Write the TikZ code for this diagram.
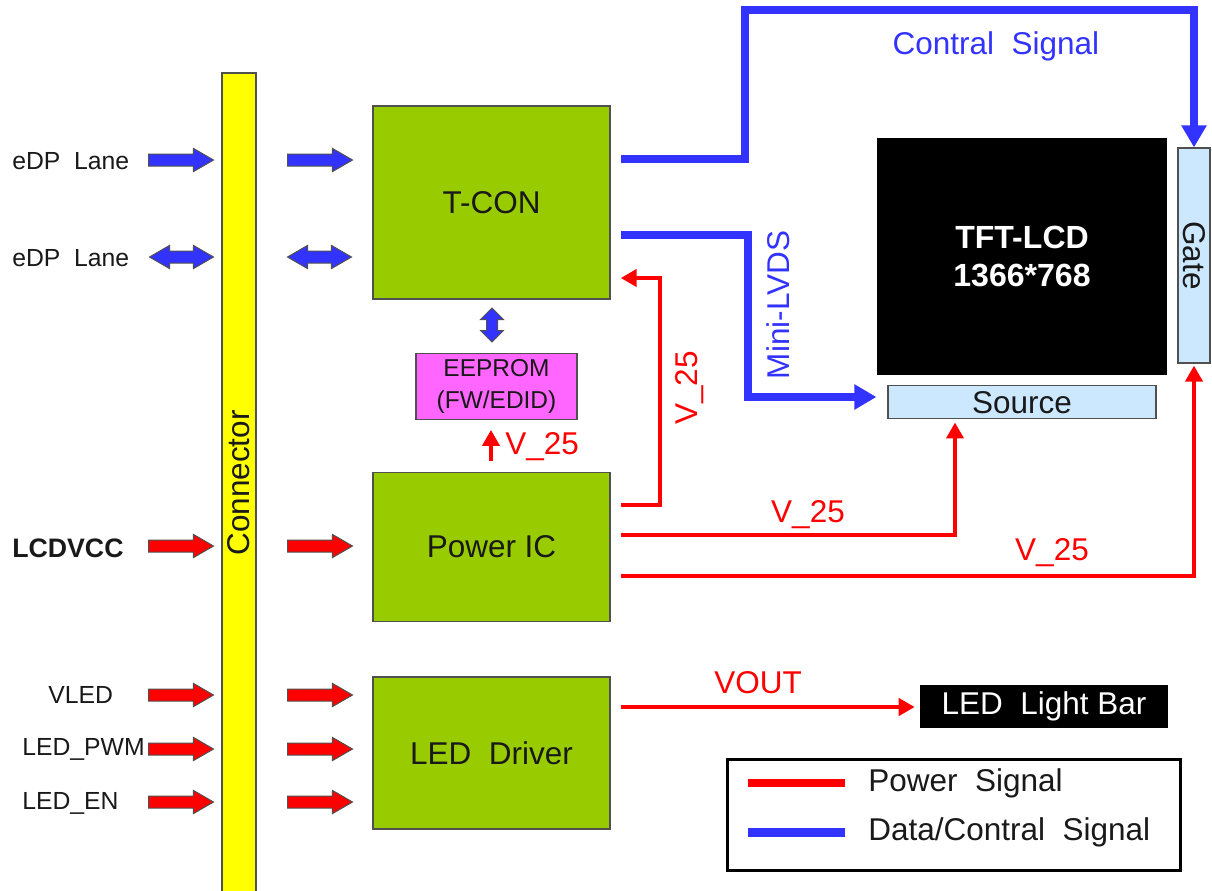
\documentclass[tikz,border=0pt]{standalone}
\usepackage{fontspec}
\setmainfont{Liberation Sans}
\usepackage{tikz}
\usetikzlibrary{positioning, arrows.meta, shapes.arrows}
\definecolor{modgreen}{RGB}{153,204,0}
\definecolor{connyellow}{RGB}{255,255,0}
\definecolor{romviolet}{RGB}{255,102,255}
\definecolor{drvblue}{RGB}{204,232,255}
\definecolor{sigblue}{RGB}{51,51,255}
\definecolor{pwrred}{RGB}{255,0,0}
\definecolor{edgegray}{RGB}{80,80,80}
\definecolor{inkblack}{RGB}{25,25,25}
\newcommand{\bigfont}{\fontsize{22.4}{26}\selectfont}
\newcommand{\pinfont}{\fontsize{17.6}{21}\selectfont}
\newcommand{\pinbold}{\fontsize{19}{22}\selectfont\bfseries}
\newcommand{\romfont}{\fontsize{17.4}{22.8}\selectfont}
\newcommand{\lcdfont}{\fontsize{22.8}{27}\selectfont\bfseries}
\tikzset{
  modbox/.style   = {rectangle, draw=edgegray, line width=0.35mm, fill=modgreen,
                     minimum width=59.25mm, align=center, font=\bigfont, text=inkblack},
  connbar/.style  = {rectangle, draw=edgegray, line width=0.35mm, fill=connyellow,
                     minimum width=205mm, minimum height=8.5mm, font=\bigfont, text=inkblack},
  drvbox/.style   = {rectangle, draw=edgegray, line width=0.3mm, fill=drvblue,
                     inner sep=0pt, font=\bigfont, text=inkblack},
  pinlabel/.style = {anchor=west, inner sep=0pt, font=\pinfont, text=inkblack},
  siglabel/.style = {inner sep=0pt, font=\bigfont},
  blkarrow/.style = {shape=single arrow, anchor=tail, draw=edgegray, line width=0.25mm,
                     minimum height=16.25mm, inner sep=0pt, text height=2.75mm, text depth=0pt,
                     single arrow head extend=1.4mm, single arrow tip angle=60},
  dblarrow/.style = {shape=double arrow, draw=edgegray, line width=0.25mm,
                     minimum height=16mm, inner sep=0pt, text height=2.75mm, text depth=0pt,
                     double arrow head extend=1.4mm, double arrow tip angle=60},
  pwrline/.style  = {draw=pwrred, line width=1.2mm, -{Triangle[length=4mm, width=4.25mm]}},
  datline/.style  = {draw=sigblue, line width=2mm, -{Triangle[length=5.5mm, width=6mm]}}
}
\begin{document}
\begin{tikzpicture}[x=0.25mm, y=-0.25mm]
\useasboundingbox (0,0) rectangle (1212,890);

% connector and module blocks
\node[connbar, rotate=90] (conn) at (239,483) {Connector};
\node[modbox, minimum height=48.25mm] (tcon) at (491.5,202.5) {T-CON};
\node[modbox, minimum height=37.25mm, below=43mm of tcon] (pwr) {Power IC};
\node[modbox, minimum height=38mm, below=13.5mm of pwr] (drv) {LED\ \ Driver};
\node[rectangle, draw=edgegray, line width=0.3mm, fill=romviolet, minimum width=40.25mm,
      minimum height=16.5mm, inner sep=0pt, align=center, font=\romfont, text=inkblack,
      below=13.25mm of tcon, xshift=1.25mm] (eeprom) {EEPROM\\(FW/EDID)};

% panel
\node[rectangle, fill=black, minimum width=72.5mm, minimum height=59.25mm, align=center,
      font=\lcdfont, text=white] (lcd) at (1022,256.5) {TFT-LCD\\1366*768};
\node[drvbox, minimum width=67mm, minimum height=8.25mm, below=2.5mm of lcd] (src) {Source};
\node[drvbox, rotate=-90, minimum width=53.75mm, minimum height=8mm] (gate) at (1194,255.5) {Gate};
\node[rectangle, fill=black, minimum width=62mm, minimum height=10.75mm, inner sep=0pt,
      font=\bigfont, text=white] (bar) at (1044,706.5) {LED\ \ Light Bar};

% pins at the connector
\node[pinlabel] (edpin) at (12,161) {eDP\ \ Lane};
\node[pinlabel] (edpaux) at (12,258) {eDP\ \ Lane};
\node[pinlabel, font=\pinbold] (lcdvcc) at (12,548) {LCDVCC};
\node[pinlabel] (vled) at (48,695) {VLED};
\node[pinlabel] (ledpwm) at (22,749) {LED\_PWM};
\node[pinlabel] (leden) at (22,803) {LED\_EN};

\node[blkarrow, fill=sigblue] (edpin1) at (148,160) {};
\node[blkarrow, fill=sigblue] (edpin2) at (287,160) {};
\node[dblarrow, fill=sigblue] (edpaux1) at (181.5,257) {};
\node[dblarrow, fill=sigblue] (edpaux2) at (319.5,257) {};
\node[blkarrow, fill=pwrred] (lcdvcc1) at (148,546) {};
\node[blkarrow, fill=pwrred] (lcdvcc2) at (287,546) {};
\node[blkarrow, fill=pwrred] (vled1) at (148,695) {};
\node[blkarrow, fill=pwrred] (vled2) at (287,695) {};
\node[blkarrow, fill=pwrred] (ledpwm1) at (148,749) {};
\node[blkarrow, fill=pwrred] (ledpwm2) at (287,749) {};
\node[blkarrow, fill=pwrred] (leden1) at (148,802) {};
\node[blkarrow, fill=pwrred] (leden2) at (287,802) {};

\node[dblarrow, fill=sigblue, rotate=90, minimum height=8.5mm, text height=2.5mm,
      double arrow head extend=1.5mm, double arrow tip angle=90] (romlink) at (492,325) {};

% data and control signals
\draw[datline, shorten <=2.5mm] (tcon.east |- 0,159) -- (745,159) -- (745,10) -| (gate.west);
\draw[datline, shorten <=2.5mm, shorten >=2.75mm] (tcon.east |- 0,235) -- (748,235) |- (src.west |- 0,397);
\node[siglabel, text=sigblue] (ctltxt) at (996,46) {Contral\ \ Signal};
\node[siglabel, text=sigblue, rotate=90] (lvdstxt) at (778,305) {Mini-LVDS};

% power rails
\draw[pwrline, shorten <=2.5mm, shorten >=2.5mm] (pwr.east |- 0,505) -- (660,505) |- (tcon.east |- 0,278);
\draw[pwrline, shorten <=2.5mm, shorten >=0.75mm] (pwr.east |- 0,535) -| (src.south -| 955,0);
\draw[pwrline, shorten <=2.5mm, shorten >=0.5mm] (pwr.east |- 0,576) -| (gate.east);
\draw[pwrline, shorten <=2.75mm, shorten >=2.5mm] (pwr.north -| 491,0) -- (eeprom.south -| 491,0);
\draw[pwrline, shorten <=2.5mm, shorten >=1.25mm] (drv.east |- 0,707) -- (bar.west |- 0,707);
\node[siglabel, text=pwrred, rotate=90] (vtcon) at (690,388) {V\_25};
\node[siglabel, text=pwrred] (vsrc) at (808,515) {V\_25};
\node[siglabel, text=pwrred] (vgate) at (1052,553) {V\_25};
\node[siglabel, text=pwrred, anchor=west] (vrom) at (505,447) {V\_25};
\node[siglabel, text=pwrred] (vout) at (758,683) {VOUT};

% legend
\node[rectangle, draw=black, line width=0.75mm, minimum width=113.25mm,
      minimum height=27.75mm] (legend) at (953.5,814.5) {};
\node[siglabel, anchor=west, text=inkblack] (pwrkey) at (868,783) {Power\ \ Signal};
\node[siglabel, anchor=west, text=inkblack] (datkey) at (868,832) {Data/Contral\ \ Signal};
\draw[draw=pwrred, line width=2mm] ([xshift=-5.75mm]pwrkey.west) -- ++(-97,0);
\draw[draw=sigblue, line width=2.25mm] ([xshift=-5.75mm]datkey.west) -- ++(-97,0);
\end{tikzpicture}
\end{document}
